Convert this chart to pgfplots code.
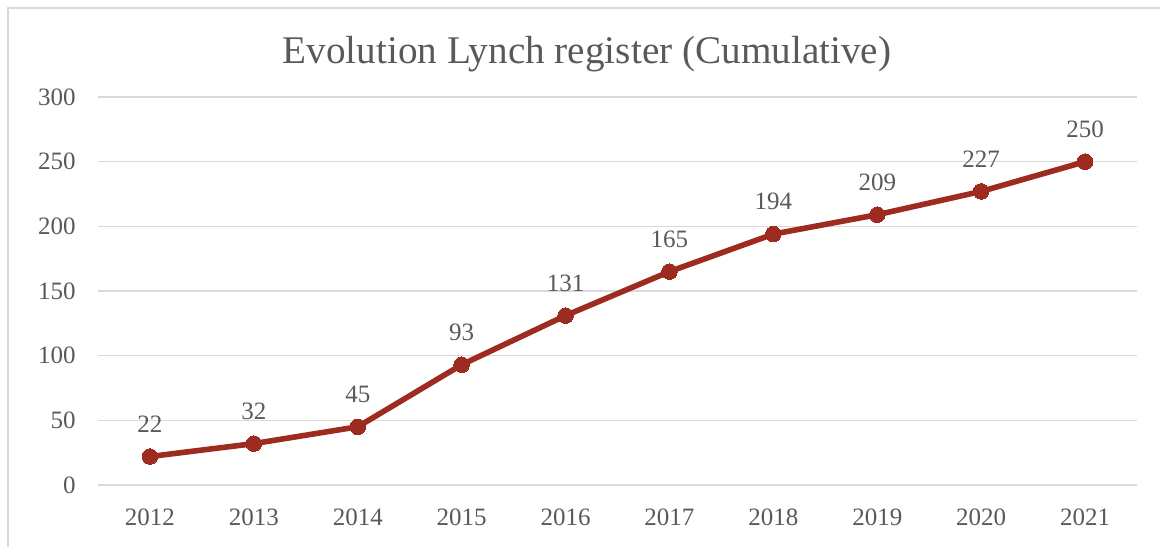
\documentclass[border=0pt]{standalone}
\usepackage{pgfplots}
\pgfplotsset{compat=1.18}
\usepackage{fontspec}
\setmainfont{Liberation Serif}
\definecolor{txt}{HTML}{595959}
\definecolor{grd}{HTML}{D9D9D9}
\definecolor{ln}{HTML}{9E2B1F}
\begin{document}
\begin{tikzpicture}
\useasboundingbox (0,0) rectangle (580pt,273pt);
\begin{scope}
\clip (0,0) rectangle (580pt,273pt);
\draw[grd, line width=0.8pt] (4pt,-10pt) -- (4pt,269pt) -- (600pt,269pt);
\end{scope}
\node[anchor=base, text=txt, font=\fontsize{19.6}{22}\selectfont, inner sep=0] at (293.5pt,241pt) {Evolution Lynch register (Cumulative)};
\begin{axis}[
  at={(49pt,30.5pt)}, anchor=south west,
  scale only axis, width=519.5pt, height=194pt,
  xmin=-0.5, xmax=9.5, ymin=0, ymax=300,
  xtick={0,...,9},
  xticklabels={2012,2013,2014,2015,2016,2017,2018,2019,2020,2021},
  ytick={0,50,...,300},
  axis line style={draw=none},
  major tick length=0pt,
  ymajorgrids, grid style={grd, line width=0.75pt},
  tick label style={text=txt, font=\fontsize{12.5}{15}\selectfont, inner sep=0},
  yticklabel style={anchor=east, xshift=-11pt},
  xticklabel style={anchor=north, yshift=-11.5pt},
  /pgf/number format/assume math mode=true,
  nodes near coords,
  every node near coord/.append style={text=txt, font=\fontsize{12.5}{15}\selectfont, anchor=south, inner sep=0, yshift=12pt},
  clip=false,
]
\addplot[ln, line width=2.8pt, mark=*, mark size=3.9pt, mark options={fill=ln, draw=ln, line width=0pt}] coordinates {
(0,22) (1,32) (2,45) (3,93) (4,131) (5,165) (6,194) (7,209) (8,227) (9,250)
};
\end{axis}
\end{tikzpicture}
\end{document}
